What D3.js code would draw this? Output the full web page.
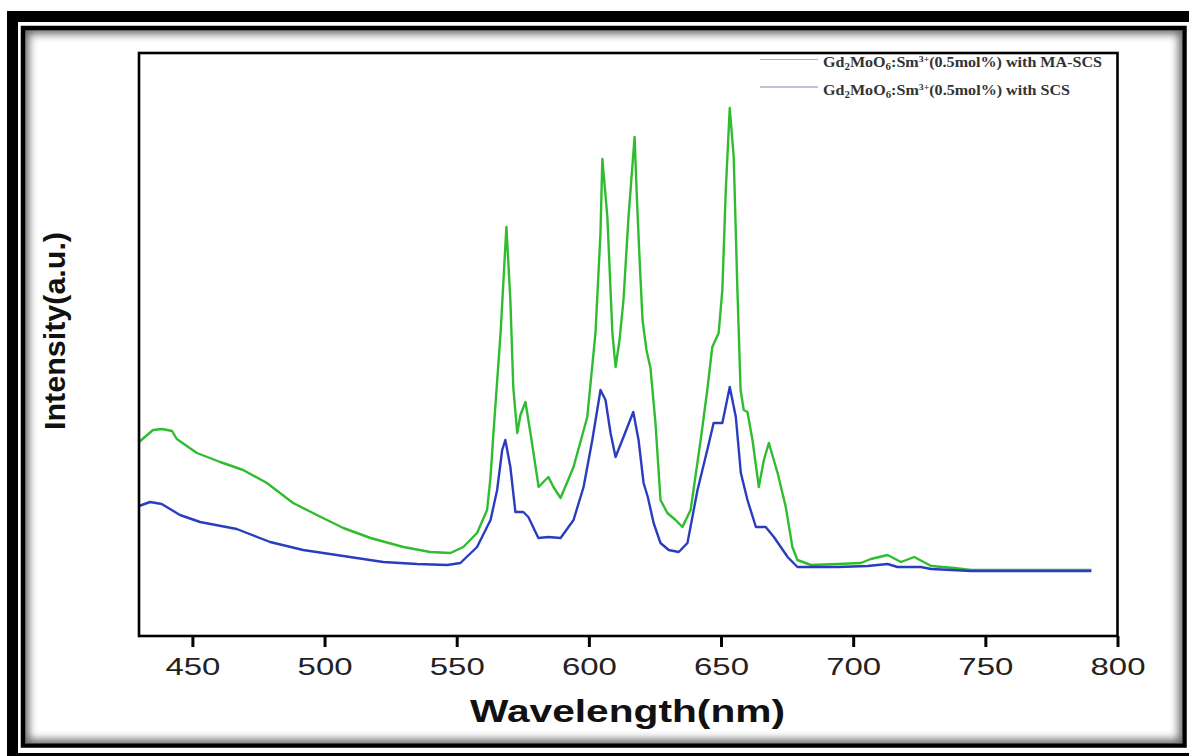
<!DOCTYPE html>
<html>
<head>
<meta charset="utf-8">
<script src="https://cdn.jsdelivr.net/npm/d3@7"></script>
<style>
html,body{margin:0;padding:0;background:#fff;}
svg{display:block;}
</style>
</head>
<body>
<svg id="chart" width="1189" height="756"></svg>
<script>
// ---- data ----
const xTicks = [450, 500, 550, 600, 650, 700, 750, 800];
const seriesNames = [
  "MA-SCS",
  "SCS"
];
const maWavelength = [429.8,435.1,438.5,442.3,444.1,451.7,460.5,469.2,478.2,488.1,497.1,507.1,517.4,529.8,540.0,547.6,552.5,557.7,561.5,562.8,563.9,566.6,567.7,568.8,570.3,571.4,572.9,574.1,576.0,577.9,581.0,582.8,584.7,586.6,589.3,594.2,599.4,602.5,604.4,605.1,607.0,608.9,610.1,611.6,613.1,615.0,617.3,618.2,619.2,620.3,621.8,623.3,625.2,627.1,629.7,632.8,635.4,638.5,642.3,644.8,646.7,649.1,650.5,651.8,653.3,654.8,656.2,657.4,658.6,660.0,661.9,664.3,666.2,668.1,671.4,674.5,677.0,678.9,684.0,694.1,702.9,706.7,713.0,718.1,723.1,729.5,738.2,744.6,790.1];
const maIntensity = [194,206,207,205,197,183,174,166,153,133,121,108,98,89,84,83,89,103,126,159,203,303,356,409,336,249,203,221,234,203,149,154,159,149,138,169,219,303,403,477,419,303,269,296,336,419,499,436,376,316,286,268,213,136,123,116,109,126,196,246,289,303,346,446,528,479,346,246,226,224,196,149,176,193,163,129,89,76,71,72,73,77,81,74,79,70,68,66,66];
const scsWavelength = [429.8,434.0,438.4,445.3,452.9,466.8,479.4,491.9,507.1,522.2,535.0,546.4,551.4,557.7,562.8,565.3,567.2,568.4,570.3,572.2,575.2,577.1,580.9,584.7,589.3,594.2,598.0,601.3,604.4,606.3,608.2,610.1,613.1,616.8,618.8,620.7,622.3,624.5,627.1,630.2,634.0,637.3,641.1,644.8,647.2,650.5,653.3,655.6,657.5,660.0,663.2,666.9,670.0,675.2,678.9,694.1,705.5,713.0,716.8,725.6,729.5,744.6,790.1];
const scsIntensity = [130,134,132,121,114,107,94,86,80,74,72,71,73,89,116,146,186,196,169,124,124,119,98,99,98,116,149,196,246,236,203,179,199,224,196,153,139,113,93,86,84,93,146,186,213,213,249,219,163,136,109,109,99,79,69,69,70,72,69,69,67,65,65];

// ---- layout ----
const svg = d3.select("#chart");
const plot = {left: 139, right: 1117.5, top: 53, bottom: 636};
const x = d3.scaleLinear().domain([429.8, 800]).range([plot.left, plot.right]);
const y = d3.scaleLinear().domain([0, 583]).range([plot.bottom, plot.top]);

// ---- frame ----
const defs = svg.append("defs");
const blur = defs.append("filter").attr("id", "blur").attr("x", "-5%").attr("y", "-5%").attr("width", "110%").attr("height", "110%");
blur.append("feGaussianBlur").attr("stdDeviation", 4.5);
defs.append("clipPath").attr("id", "innerClip")
  .append("rect").attr("x", 25).attr("y", 30).attr("width", 1157).attr("height", 713);

svg.append("rect").attr("x", 7).attr("y", 11).attr("width", 1300).attr("height", 900).attr("fill", "#000");
svg.append("rect").attr("x", 18).attr("y", 22).attr("width", 1300).attr("height", 731).attr("fill", "#fff");
svg.append("g").attr("clip-path", "url(#innerClip)")
  .append("rect").attr("x", 23).attr("y", 28).attr("width", 1161.5).attr("height", 717.5)
  .attr("fill", "none").attr("stroke", "#000").attr("stroke-width", 12).attr("opacity", 0.6)
  .attr("filter", "url(#blur)");
svg.append("rect").attr("x", 23).attr("y", 28).attr("width", 1161.5).attr("height", 717.5)
  .attr("fill", "none").attr("stroke", "#000").attr("stroke-width", 4.5);

// ---- curves ----
const line = d3.line().x(d => x(d[0])).y(d => y(d[1]));
const maData = maWavelength.map((w, i) => [w, maIntensity[i]]);
const scsData = scsWavelength.map((w, i) => [w, scsIntensity[i]]);
svg.append("path").datum(maData).attr("d", line).attr("fill", "none")
  .attr("stroke", "#2fbd2f").attr("stroke-width", 2.4).attr("stroke-linejoin", "round");
svg.append("path").datum(scsData).attr("d", line).attr("fill", "none")
  .attr("stroke", "#2b3dbf").attr("stroke-width", 2.4).attr("stroke-linejoin", "round");

// ---- plot box ----
svg.append("rect").attr("x", plot.left).attr("y", plot.top)
  .attr("width", plot.right - plot.left).attr("height", plot.bottom - plot.top)
  .attr("fill", "none").attr("stroke", "#000").attr("stroke-width", 2.6);

// ---- x axis ----
const xAxis = d3.axisBottom(x).tickValues(xTicks).tickSize(11).tickSizeOuter(0).tickPadding(10);
const gx = svg.append("g").attr("transform", `translate(0,${plot.bottom})`).call(xAxis);
gx.select(".domain").remove();
gx.selectAll(".tick line").attr("stroke", "#000").attr("stroke-width", 3);
gx.selectAll(".tick text")
  .attr("font-family", "Liberation Sans, Arial, sans-serif")
  .attr("font-size", 24.5).attr("fill", "#222")
  .attr("dy", null).attr("y", 39)
  .attr("textLength", 55).attr("lengthAdjust", "spacingAndGlyphs");

// ---- axis titles ----
svg.append("text").attr("x", 627.5).attr("y", 722).attr("text-anchor", "middle")
  .attr("font-family", "Liberation Sans, Arial, sans-serif").attr("font-weight", "bold")
  .attr("font-size", 30.5).attr("fill", "#111")
  .attr("textLength", 315).attr("lengthAdjust", "spacingAndGlyphs")
  .text("Wavelength(nm)");
svg.append("text").attr("transform", "translate(65,331) rotate(-90)").attr("text-anchor", "middle")
  .attr("font-family", "Liberation Sans, Arial, sans-serif").attr("font-weight", "bold")
  .attr("font-size", 30).attr("fill", "#111")
  .attr("textLength", 198).attr("lengthAdjust", "spacingAndGlyphs")
  .text("Intensity(a.u.)");

// ---- legend ----
const legendRows = [
  {name: seriesNames[0], lineColor: "#a9b5a9", ly: 59.5, ty: 67, len: 279},
  {name: seriesNames[1], lineColor: "#7f8cb8", ly: 87, ty: 95, len: 247}
];
legendRows.forEach(r => {
  svg.append("line").attr("x1", 760).attr("x2", 818).attr("y1", r.ly).attr("y2", r.ly)
    .attr("stroke", r.lineColor).attr("stroke-width", 1.2);
  const t = svg.append("text").attr("x", 823).attr("y", r.ty)
    .attr("font-family", "Liberation Serif, Times New Roman, serif").attr("font-weight", "bold")
    .attr("font-size", 14).attr("fill", "#333")
    .attr("textLength", r.len).attr("lengthAdjust", "spacingAndGlyphs");
  t.append("tspan").text("Gd");
  t.append("tspan").attr("font-size", 9.5).attr("dy", 3).text("2");
  t.append("tspan").attr("dy", -3).text("MoO");
  t.append("tspan").attr("font-size", 9.5).attr("dy", 3).text("6");
  t.append("tspan").attr("dy", -3).text(":Sm");
  t.append("tspan").attr("font-size", 8.5).attr("dy", -5).text("3+");
  t.append("tspan").attr("dy", 5).text("(0.5mol%) with " + r.name);
});
</script>
</body>
</html>
